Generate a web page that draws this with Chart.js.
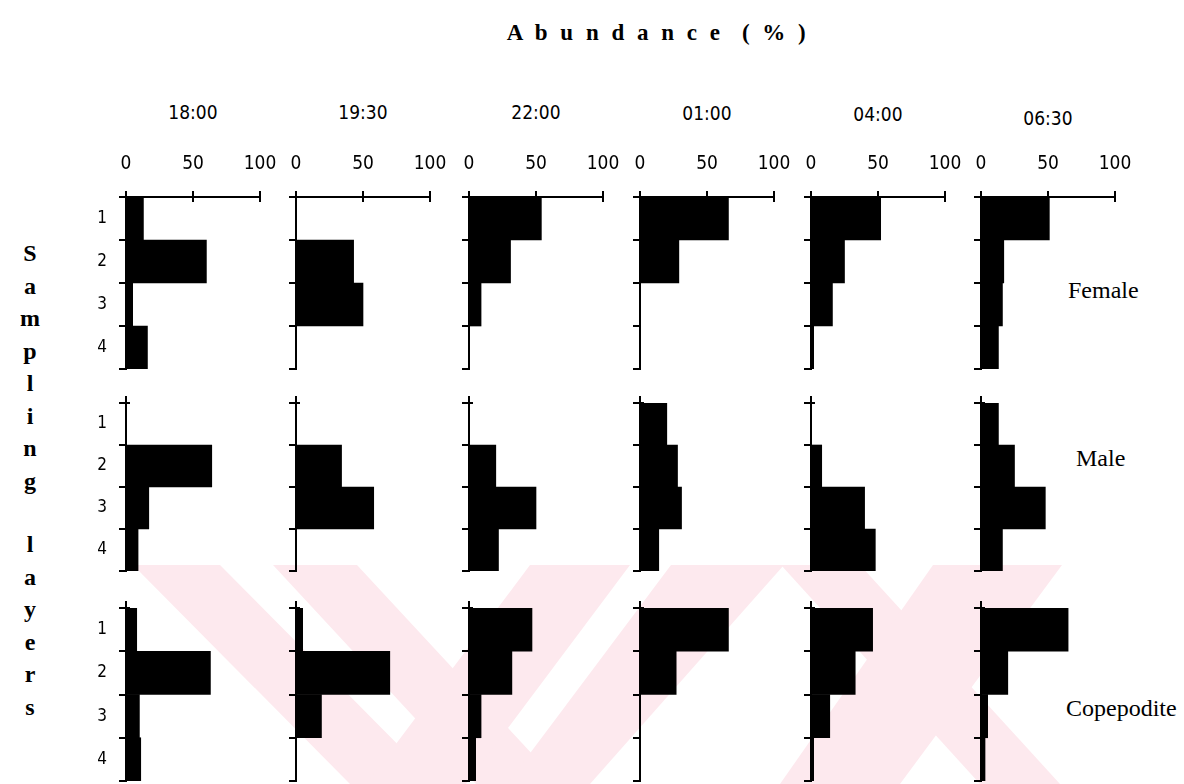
<!DOCTYPE html>
<html>
<head>
<meta charset="utf-8">
<script src="https://cdn.jsdelivr.net/npm/chart.js@4.4.1/dist/chart.umd.min.js"></script>
<style>
  body { margin: 0; background: #fff; }
  #page { position: relative; width: 1184px; height: 784px; overflow: hidden; background: #fff; }
  #wm { position: absolute; left: 0; top: 0; }
  canvas.panel { position: absolute; }
  .txt { position: absolute; white-space: pre; color: #000; line-height: 1; }
  .time { font-family: "DejaVu Sans Condensed", "DejaVu Sans", sans-serif; font-size: 19px; transform: translate(-50%, -50%); }
  .grp { font-family: "Liberation Serif", serif; font-size: 24px; transform: translateY(-50%); }
  .side { font-family: "Liberation Serif", serif; font-size: 24px; font-weight: bold; transform: translate(-50%, -50%); }
  #title { font-family: "Liberation Serif", serif; font-size: 23px; font-weight: bold; letter-spacing: 3.5px; transform: translate(-50%, -50%); }
</style>
</head>
<body>
<div id="page">
  <svg id="wm" width="1184" height="784">
    <g fill="#fde9ee">
      <polygon points="133,565 220,565 437,784 350,784"/>
      <polygon points="273,565 357,565 560,784 476,784"/>
      <polygon points="530,565 630,565 466,784 366,784"/>
      <polygon points="671,565 784,565 590,784 507,784"/>
      <polygon points="781,565 860,565 1060,784 980,784"/>
      <polygon points="933,565 1062,565 900,784 780,784"/>
    </g>
  </svg>
</div>
<script>
// ====== DATA ======
const times = ["18:00", "19:30", "22:00", "01:00", "04:00", "06:30"];
const layers = ["1", "2", "3", "4"];
const groups = ["Female", "Male", "Copepodite"];
const xTicks = [0, 50, 100];
const sideLetters = ["S", "a", "m", "p", "l", "i", "n", "g", "", "l", "a", "y", "e", "r", "s"];

// abundance (%) per sampling layer 1..4, one array per time
const female = [
  [13, 60, 5, 16],
  [0, 43, 50, 0],
  [54, 31, 9, 0],
  [66, 29, 0, 0],
  [52, 25, 16, 2],
  [51, 17, 16, 13]
];
const male = [
  [0, 64, 17, 9],
  [0, 34, 58, 0],
  [0, 20, 50, 22],
  [20, 28, 31, 14],
  [0, 8, 40, 48],
  [13, 25, 48, 16]
];
const copepodite = [
  [8, 63, 10, 11],
  [5, 70, 19, 0],
  [47, 32, 9, 5],
  [66, 27, 0, 0],
  [46, 33, 14, 2],
  [65, 20, 5, 3]
];
const series = [female, male, copepodite];

// ====== LAYOUT ======
const colZero = [126, 296, 469, 640, 811, 981];   // pixel of 0 % in each column
const plotW = 134;                                 // width of 0..100 %
const rowTop = [197, 403, 608];
const rowH = [172, 168, 173];
const yAxisW = 40, padR = 22, padB = 3, padT = 10, topAxisH = 58;
const timeY = [112, 112, 112, 113, 114, 118];
const grpPos = [[1068, 290], [1076, 458], [1066, 708]];

const page = document.getElementById("page");

function addText(cls, text, x, y, id) {
  const d = document.createElement("div");
  d.className = "txt " + cls;
  if (id) d.id = id;
  d.textContent = text;
  d.style.left = x + "px";
  d.style.top = y + "px";
  page.appendChild(d);
}

addText("", "A b u n d a n c e  ( % )", 658, 32, "title");
times.forEach((t, i) => addText("time", t, colZero[i] + plotW / 2, timeY[i]));
groups.forEach((g, i) => addText("grp", g, grpPos[i][0], grpPos[i][1]));

let sy = 253;
sideLetters.forEach(ch => {
  if (ch) addText("side", ch, 30, sy);
  sy += ch ? 32.5 : 31;
});

// ====== CHARTS ======
const tickFont = { family: "'DejaVu Sans Condensed', 'DejaVu Sans', sans-serif", size: 19 };
const noPad = s => { s.paddingLeft = 0; s.paddingRight = 0; s.paddingTop = 0; s.paddingBottom = 0; };

// small "+" cap above the value axis, and ticks crossing the top axis line
const axisCaps = {
  id: "axisCaps",
  afterDraw(chart, args, opts) {
    const { ctx, chartArea } = chart;
    const x0 = chart.scales.x.getPixelForValue(0);
    ctx.save();
    ctx.strokeStyle = "#000";
    ctx.lineWidth = 2;
    ctx.beginPath();
    if (opts.top) {
      xTicks.forEach(v => {
        const px = chart.scales.x.getPixelForValue(v);
        ctx.moveTo(px, chartArea.top);
        ctx.lineTo(px, chartArea.top + 5);
      });
    } else {
      ctx.moveTo(x0, chartArea.top);
      ctx.lineTo(x0, chartArea.top - 7);
      ctx.moveTo(x0, chartArea.top);
      ctx.lineTo(x0 + 4, chartArea.top);
    }
    ctx.stroke();
    ctx.restore();
  }
};

function makePanel(r, c) {
  const top = r === 0;
  const cv = document.createElement("canvas");
  cv.className = "panel";
  const w = yAxisW + plotW + padR;
  const h = (top ? topAxisH : padT) + rowH[r] + padB;
  cv.width = w;
  cv.height = h;
  cv.style.left = (colZero[c] - yAxisW) + "px";
  cv.style.top = (rowTop[r] - (top ? topAxisH : padT)) + "px";
  page.appendChild(cv);

  new Chart(cv, {
    type: "bar",
    data: {
      labels: layers,
      datasets: [{
        data: series[r][c],
        backgroundColor: "#000",
        borderWidth: 0,
        barPercentage: 1,
        categoryPercentage: 1
      }]
    },
    plugins: [axisCaps],
    options: {
      indexAxis: "y",
      responsive: false,
      animation: false,
      devicePixelRatio: 1,
      layout: { padding: { top: top ? 0 : padT, right: padR, bottom: padB, left: 0 } },
      plugins: { legend: { display: false }, tooltip: { enabled: false }, axisCaps: { top } },
      scales: {
        x: {
          type: "linear",
          position: "top",
          display: top,
          min: 0,
          max: 100,
          afterBuildTicks: s => { s.ticks = xTicks.map(v => ({ value: v })); },
          afterFit: s => { s.height = top ? topAxisH : 0; noPad(s); },
          ticks: { color: "#000", font: tickFont, padding: 16, maxRotation: 0, autoSkip: false },
          grid: { drawOnChartArea: false, tickLength: 6, color: "#000", lineWidth: 2 },
          border: { display: true, color: "#000", width: 2 }
        },
        y: {
          type: "category",
          afterFit: s => { s.width = yAxisW; noPad(s); },
          ticks: { display: c === 0, autoSkip: false, color: "#000", font: { family: tickFont.family, size: 17 }, padding: 12 },
          grid: { offset: true, drawOnChartArea: false, tickLength: 7, color: "#000", lineWidth: 2 },
          border: { display: true, color: "#000", width: 2 }
        }
      }
    }
  });
}

for (let r = 0; r < 3; r++) {
  for (let c = 0; c < 6; c++) makePanel(r, c);
}
</script>
</body>
</html>
